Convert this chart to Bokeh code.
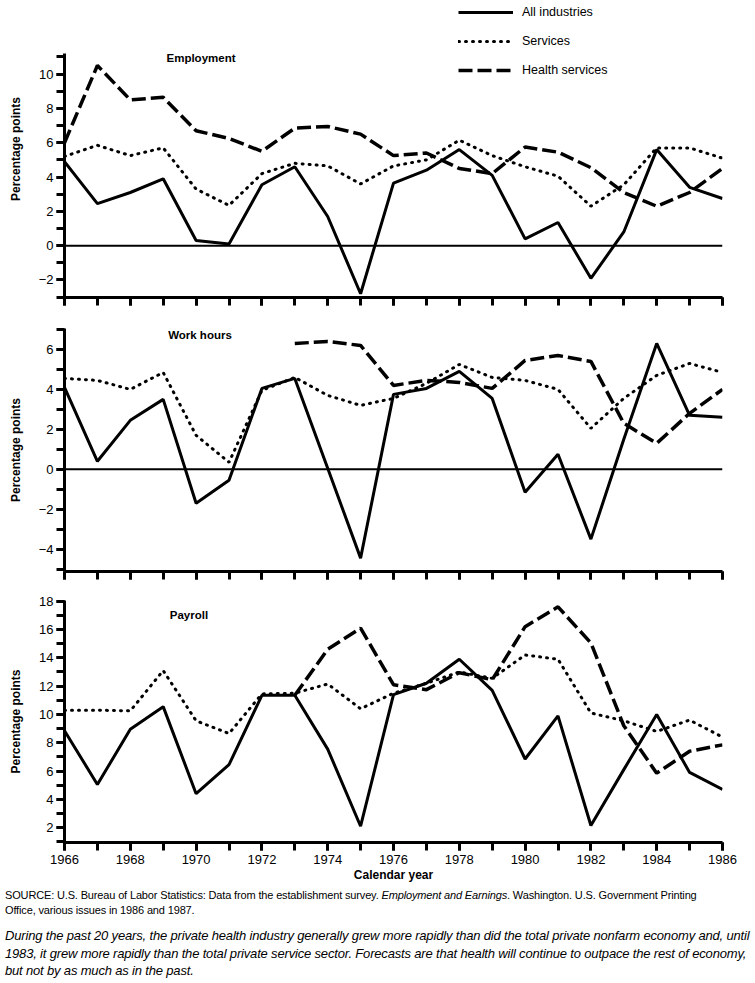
from bokeh.plotting import figure
from bokeh.models import (ColumnDataSource, Span, Label, Legend, LegendItem,
                          SingleIntervalTicker, CustomJSTickFormatter, Range1d, Div)
from bokeh.layouts import column
from bokeh.embed import file_html
from bokeh.resources import INLINE

nan = float("nan")
FONT = "Liberation Sans"

years = list(range(1966, 1987))
series_names = ["All industries", "Services", "Health services"]

emp_all = [4.9, 2.45, 3.1, 3.9, 0.3, 0.1, 3.55, 4.6, 1.7, -2.8, 3.65,
           4.4, 5.6, 4.1, 0.4, 1.35, -1.9, 0.8, 5.6, 3.4, 2.75]
emp_serv = [5.2, 5.85, 5.25, 5.7, 3.3, 2.35, 4.2, 4.8, 4.65, 3.6, 4.65,
            5.0, 6.15, 5.25, 4.6, 4.05, 2.3, 3.55, 5.7, 5.7, 5.1]
emp_health = [6.0, 10.5, 8.5, 8.65, 6.7, 6.25, 5.5, 6.85, 6.95, 6.5, 5.25,
              5.4, 4.5, 4.2, 5.75, 5.45, 4.55, 3.1, 2.3, 3.1, 4.5]

wh_all = [4.1, 0.4, 2.45, 3.5, -1.7, -0.55, 4.05, 4.55, 0.05, -4.45, 3.75,
          4.05, 4.9, 3.55, -1.15, 0.75, -3.5, 1.5, 6.3, 2.7, 2.6]
wh_serv = [4.55, 4.45, 4.0, 4.85, 1.7, 0.35, 3.95, 4.6, 3.7, 3.2, 3.55,
           4.3, 5.25, 4.6, 4.45, 4.0, 2.05, 3.55, 4.7, 5.3, 4.85]
wh_health = [nan, nan, nan, nan, nan, nan, nan, 6.3, 6.4, 6.2, 4.2,
             4.45, 4.35, 4.05, 5.45, 5.7, 5.4, 2.3, 1.3, 2.8, 4.0]

pay_all = [8.85, 5.05, 8.95, 10.55, 4.4, 6.45, 11.35, 11.35, 7.55, 2.1, 11.4,
           12.2, 13.9, 11.7, 6.85, 9.9, 2.15, 6.1, 10.0, 5.9, 4.7]
pay_serv = [10.3, 10.3, 10.25, 13.1, 9.55, 8.65, 11.45, 11.5, 12.15, 10.4, 11.5,
            12.2, 13.0, 12.55, 14.2, 13.9, 10.1, 9.55, 8.8, 9.6, 8.4]
pay_health = [nan, nan, nan, nan, nan, nan, nan, 11.35, 14.6, 16.1, 12.1,
              11.75, 12.95, 12.45, 16.2, 17.6, 15.05, 9.2, 5.85, 7.4, 7.85]

panel_titles = ["Employment", "Work hours", "Payroll"]
y_label = "Percentage points"
x_label = "Calendar year"

source_html = ("SOURCE: U.S. Bureau of Labor Statistics: Data from the establishment survey. "
               "<i>Employment and Earnings</i>. Washington. U.S. Government Printing<br>"
               "Office, various issues in 1986 and 1987.")
caption_html = ("During the past 20 years, the private health industry generally grew more rapidly "
                "than did the total private nonfarm economy and, until<br>1983, it grew more rapidly "
                "than the total private service sector. Forecasts are that health will continue to "
                "outpace the rest of economy,<br>but not by as much as in the past.")

STYLES = [dict(line_dash="solid", line_width=3, line_cap="butt"),
          dict(line_dash="1 6", line_width=3, line_cap="round"),
          dict(line_dash="14 5", line_width=3.5, line_cap="butt")]


def make_panel(title, data, yr, ybounds, frame_h, top, bottom, title_pos, x_labels, zero_line):
    p = figure(frame_width=658, frame_height=frame_h,
               x_range=Range1d(1966, 1986), y_range=Range1d(*yr),
               output_backend="svg", toolbar_location=None,
               min_border_left=53, min_border_right=20,
               min_border_top=top, min_border_bottom=bottom)
    p.outline_line_color = None
    p.grid.visible = False
    p.background_fill_color = "white"
    p.border_fill_color = "white"

    p.xaxis.ticker = SingleIntervalTicker(interval=2, num_minor_ticks=2)
    p.yaxis.ticker = SingleIntervalTicker(interval=2, num_minor_ticks=2)
    p.yaxis.bounds = ybounds
    for ax in (p.xaxis[0], p.yaxis[0]):
        ax.axis_line_width = 3
        ax.axis_line_color = "black"
        ax.major_tick_line_width = 3
        ax.minor_tick_line_width = 3
        ax.major_tick_line_color = "black"
        ax.minor_tick_line_color = "black"
        ax.major_tick_out = 8
        ax.major_tick_in = 0
        ax.minor_tick_out = 8
        ax.minor_tick_in = 0
        ax.major_label_text_font = FONT
        ax.major_label_text_font_size = "13px"
        ax.major_label_text_color = "black"
    p.yaxis.major_label_standoff = 3
    p.yaxis.axis_label = y_label
    p.yaxis.axis_label_text_font = FONT
    p.yaxis.axis_label_text_font_size = "12px"
    p.yaxis.axis_label_text_font_style = "bold"
    p.yaxis.axis_label_standoff = 13
    p.yaxis.axis_label_text_color = "black"

    if x_labels:
        p.xaxis.major_label_standoff = 4
        p.xaxis.axis_label = x_label
        p.xaxis.axis_label_text_font = FONT
        p.xaxis.axis_label_text_font_size = "12px"
        p.xaxis.axis_label_text_font_style = "bold"
        p.xaxis.axis_label_standoff = 1
        p.xaxis.axis_label_text_color = "black"
    else:
        p.xaxis.formatter = CustomJSTickFormatter(code="return ''")
        p.xaxis.major_label_text_font_size = "0px"
        p.xaxis.major_label_standoff = 0

    if zero_line:
        p.add_layout(Span(location=0, dimension="width", line_color="black", line_width=2))

    src = ColumnDataSource(dict(x=years, a=data[0], s=data[1], h=data[2]))
    rends = []
    for key, st in zip(["a", "s", "h"], STYLES):
        rends.append(p.line("x", key, source=src, line_color="black", **st))

    p.add_layout(Label(x=title_pos[0], y=title_pos[1], text=title, text_font=FONT,
                       text_font_size="11.5px", text_font_style="bold",
                       text_baseline="middle", text_align="left", text_color="black"))
    return p, rends


# panel 1: frame extends to the page top so the legend above the axis is not clipped
p1, r1 = make_panel(panel_titles[0], [emp_all, emp_serv, emp_health], (-3.02, 14.29), (-3.02, 11.2),
                    297, 0, 15, (1969.1, 10.95), False, True)
p2, r2 = make_panel(panel_titles[1], [wh_all, wh_serv, wh_health], (-5.12, 7.05), (-5.12, 7.05),
                    243, 16, 14, (1969.15, 6.7), False, True)
p3, r3 = make_panel(panel_titles[2], [pay_all, pay_serv, pay_health], (0.95, 18.05), (0.95, 18.05),
                    242, 15, 45, (1969.2, 17.0), True, False)

legend = Legend(items=[LegendItem(label=n, renderers=[r]) for n, r in zip(series_names, r1)],
                location=(394, 220), orientation="vertical",
                glyph_width=55, glyph_height=12, label_height=12, label_width=20,
                spacing=15, padding=0, margin=0, label_standoff=9,
                border_line_color=None, background_fill_alpha=0,
                label_text_font=FONT, label_text_font_size="12.5px",
                label_text_color="black")
p1.add_layout(legend)

div = Div(text=(
    '<div style="font-family:\'Liberation Sans\'; font-size:11px; line-height:15px; '
    'letter-spacing:-0.15px; color:black; margin-top:1px;">' + source_html + '</div>'
    '<div style="font-family:\'Liberation Sans\'; font-size:13px; line-height:17.5px; '
    'font-style:italic; letter-spacing:-0.17px; color:black; margin-top:9px;">' + caption_html + '</div>'),
    width=747, margin=(0, 0, 0, 0))

layout = column(p1, p2, p3, div, spacing=0, margin=(0, 0, 0, 5))

open("out.html", "w").write(file_html(layout, INLINE))
